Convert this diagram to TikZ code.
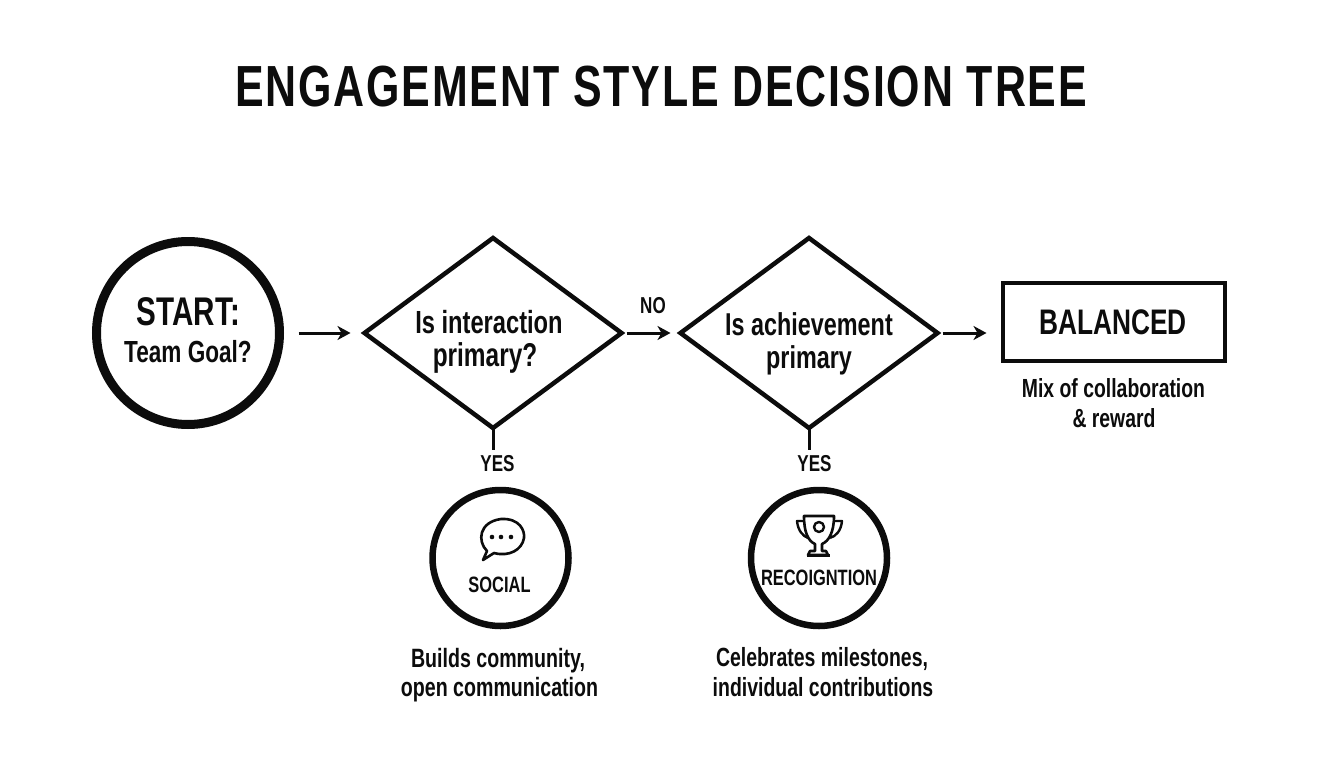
\documentclass[tikz,border=0pt]{standalone}
\usepackage{fontspec}
\setmainfont{Liberation Sans}[FakeStretch=0.74]
\newfontfamily\titlefont{Liberation Sans}[FakeStretch=0.74,LetterSpace=3.2]
\usetikzlibrary{shapes.geometric,arrows.meta}
\definecolor{ink}{HTML}{0C0C0C}
\newcommand{\fs}[1]{\fontsize{#1}{#1}\selectfont}
\tikzset{
  lbl/.style={inner sep=0,outer sep=0,align=center,text=ink},
  decide/.style={diamond,draw=ink,line width=4.5pt,minimum width=257pt,minimum height=190pt,inner sep=0,outer sep=0,fill=white},
  ring/.style={circle,draw=ink,inner sep=0,outer sep=0},
  flow/.style={draw=ink,line width=3pt,-{Stealth[length=13pt,width=14pt,inset=4pt]}},
  icon/.style={draw=ink,line width=2pt,line join=round}
}
\begin{document}
\begin{tikzpicture}[x=1pt,y=-1pt]
\useasboundingbox[fill=white] (0,0) rectangle (1344,768);
\node[lbl,font=\titlefont\fs{58}\bfseries] (title) at (661,87) {ENGAGEMENT STYLE DECISION TREE};
\node[ring,line width=9pt,minimum size=183pt] (start) at (188,333) {};
\node[lbl,font=\fs{40}\bfseries] (starttext1) at (188.5,312) {START:};
\node[lbl,font=\fs{30.5}\bfseries] (starttext2) at (188,352) {Team Goal?};
\node[decide] (d1) at (493,333) {};
\node[lbl,font=\fs{32}\bfseries] (d1text1) at (489,322) {Is interaction};
\node[lbl,font=\fs{33}\bfseries] (d1text2) at (485,358) {primary?};
\node[decide] (d2) at (809,333) {};
\node[lbl,font=\fs{31.6}\bfseries] (d2text1) at (809,324) {Is achievement};
\node[lbl,font=\fs{31.6}\bfseries] (d2text2) at (809,360) {primary};
\node[draw=ink,line width=4pt,minimum width=222pt,minimum height=78pt,inner sep=0,outer sep=0] (bal) at (1113.5,321.5) {};
\node[lbl,font=\fs{35.5}\bfseries] (baltext) at (1113,322) {BALANCED};
\node[lbl,font=\fs{26.2}\bfseries] (balnote1) at (1113.5,388) {Mix of collaboration};
\node[lbl,font=\fs{26.2}\bfseries] (balnote2) at (1114,418) {\&\ reward};
\node[lbl,font=\fs{23}\bfseries] (no) at (653,306) {NO};
\node[lbl,font=\fs{23}\bfseries] (yes1) at (497.5,464) {YES};
\node[lbl,font=\fs{23}\bfseries] (yes2) at (814.5,464) {YES};
\node[ring,line width=6.5pt,minimum size=136pt] (social) at (500.5,558) {};
\node[ring,line width=6.5pt,minimum size=136pt] (recog) at (819,558) {};
\node[lbl,font=\fs{22.2}\bfseries] (soctext) at (499.5,585) {SOCIAL};
\node[lbl,font=\fs{22.2}\bfseries] (rectext) at (819,578) {RECOIGNTION};
\node[lbl,font=\fs{26.5}\bfseries] (socnote1) at (498,661) {Builds community,};
\node[lbl,font=\fs{26.5}\bfseries] (socnote2) at (499.5,690) {open communication};
\node[lbl,font=\fs{26.3}\bfseries] (recnote1) at (822,659) {Celebrates milestones,};
\node[lbl,font=\fs{26.3}\bfseries] (recnote2) at (823,687) {individual contributions};
\draw[flow,shorten <=19pt,shorten >=14pt] (start) -- (d1);
\draw[flow,shorten <=5pt,shorten >=10pt] (d1) -- (d2);
\draw[flow,shorten <=5pt,shorten >=16pt] (d2.east) -- (d2.east -| bal.west);
\draw[draw=ink,line width=3pt] (d1.south) -- (d1.south |- 0,450);
\draw[draw=ink,line width=3pt] (d2.south) -- (d2.south |- 0,450);
% speech bubble icon
\draw[icon,line width=2.6pt] (487,551) .. controls (477,541) and (479,522) .. (501,519)
  .. controls (520,518) and (525,531) .. (524,538)
  .. controls (522,550) and (509,557) .. (494,553) -- (483,560) -- cycle;
\fill[ink] (492,537) circle (2.3pt) (501,537) circle (2.3pt) (511,537) circle (2.3pt);
% trophy icon
\draw[icon,line width=2.6pt] (804,516) -- (834,516) .. controls (834,532) and (829,541) .. (822,544) -- (822,551) -- (826,551) -- (828,555) -- (808,555) -- (810,551) -- (815,551) -- (815,544) .. controls (808,541) and (804,532) .. (804,516) -- cycle;
\draw[icon,line width=2.4pt] (804,521) -- (797,521) .. controls (798,531) and (803,536) .. (808,538);
\draw[icon,line width=2.4pt] (834,521) -- (842,521) .. controls (841,531) and (836,536) .. (830,538);
\draw[icon,line width=2.4pt] (819,527) circle (5pt);
\draw[icon,line width=2.6pt] (807,555.5) -- (830,555.5);
\end{tikzpicture}
\end{document}
